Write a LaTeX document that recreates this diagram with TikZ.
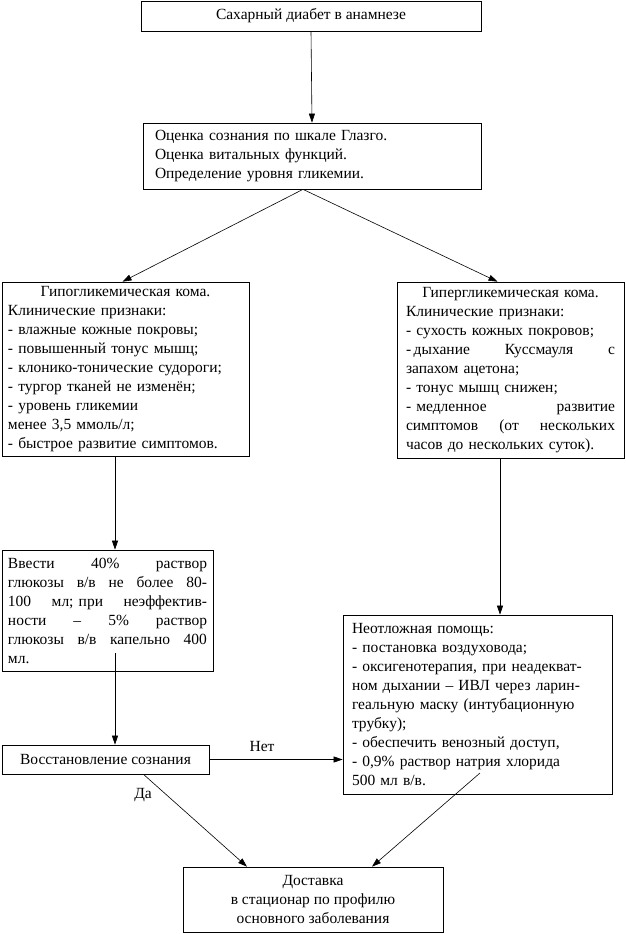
\documentclass[tikz,border=0pt]{standalone}
\usepackage{fontspec}
\setmainfont{Liberation Serif}
\usetikzlibrary{arrows.meta,calc}
\newcommand{\jline}[1]{\leavevmode\hbox to \linewidth{#1}}
\begin{document}
\begin{tikzpicture}[x=1pt,y=-1pt,
  box/.style={draw, line width=0.7pt, inner ysep=0pt, font=\fontsize{15.5}{19}\selectfont},
  arr/.style={line width=0.6pt, -{Triangle[length=9pt,width=6pt]}},
  lbl/.style={font=\fontsize{15.5}{17}\selectfont}]
\useasboundingbox (0,0) rectangle (625,934);
\node[box, minimum width=340pt, minimum height=30pt] (b1) at (311,16) {Сахарный диабет в анамнезе};
\node[box, minimum width=338pt, minimum height=66pt, inner xsep=12pt, text width=314pt, align=left] (b2) at (312,156)
 {Оценка сознания по шкале Глазго.\\ Оценка витальных функций.\\ Определение уровня гликемии.};
\node[box, minimum width=247pt, minimum height=174pt, inner xsep=6pt, text width=235pt, align=left] (b3) at (125.5,369)
 {\jline{\hfil Гипогликемическая кома.\hfil}\\ Клинические признаки:\\ - влажные кожные покровы;\\ - повышенный тонус мышц;\\ - клонико-тонические судороги;\\ - тургор тканей не изменён;\\ - уровень гликемии\\ менее 3,5 ммоль/л;\\ - быстрое развитие симптомов.};
\node[box, minimum width=227pt, minimum height=176pt, inner xsep=9pt, text width=209pt, align=left] (b4) at (510.5,370)
 {\jline{\hfil Гипергликемическая кома.\hfil}\\ Клинические признаки:\\ - сухость кожных покровов;\\ \jline{-\,дыхание\hfill Куссмауля\hfill с}\\ запахом ацетона;\\ - тонус мышц снижен;\\ \jline{- медленное\hfill развитие}\\ \jline{симптомов\hfill (от\hfill нескольких}\\ часов до нескольких суток).};
\node[box, minimum width=211pt, minimum height=121pt, inner xsep=6pt, text width=199pt, align=left] (b5) at (107.5,610.5)
 {\jline{Ввести\hfill 40\%\hfill раствор}\\ \jline{глюкозы\hfill в/в\hfill не\hfill более\hfill 80-}\\ \jline{100\hfill мл; при\hfill неэффектив-}\\ \jline{ности\hfill –\hfill 5\%\hfill раствор}\\ \jline{глюкозы\hfill в/в\hfill капельно\hfill 400}\\ мл.};
\node[box, minimum width=207pt, minimum height=29pt] (b6) at (105.5,759.5) {Восстановление сознания};
\node[box, minimum width=269pt, minimum height=179pt, inner xsep=9pt, text width=251pt, align=left] (b7) at (477.5,704.5)
 {Неотложная помощь:\\ - постановка воздуховода;\\ - оксигенотерапия, при неадекват-\\ ном дыхании – ИВЛ через ларин-\\ геальную маску (интубационную\\ трубку);\\ - обеспечить венозный доступ,\\ - 0,9\% раствор натрия хлорида\\ 500 мл в/в.};
\node[box, minimum width=260pt, minimum height=65pt, align=center] (b8) at (313,899.5)
 {Доставка\\ в стационар по профилю\\ основного заболевания};
% connectors
\coordinate (s2) at ([xshift=-9pt]b2.south);
\coordinate (s5) at (115,653);
\coordinate (s7) at (480,773);
\draw[arr] (b1.south) -- (b2.north);
\draw[arr] (s2) -- ([xshift=-3pt]b3.north);
\draw[arr] (s2) -- ([xshift=-13pt]b4.north);
\draw[arr] ([xshift=-10.5pt]b3.south) -- ([xshift=-10.5pt]b3.south |- b5.north);
\draw[arr] (s5) -- (s5 |- b6.north);
\draw[arr] ([xshift=-10.5pt]b4.south) -- ([xshift=-10.5pt]b4.south |- b7.north);
\draw[arr] (b6.east) -- (b6.east -| b7.west);
\draw[arr] ([xshift=38pt]b6.south) -- ([xshift=-66pt]b8.north);
\draw[arr] (s7) -- ([xshift=59pt]b8.north);
\node[lbl] (no) at (262,746) {Нет};
\node[lbl] (yes) at (143,795) {Да};
\end{tikzpicture}
\end{document}
